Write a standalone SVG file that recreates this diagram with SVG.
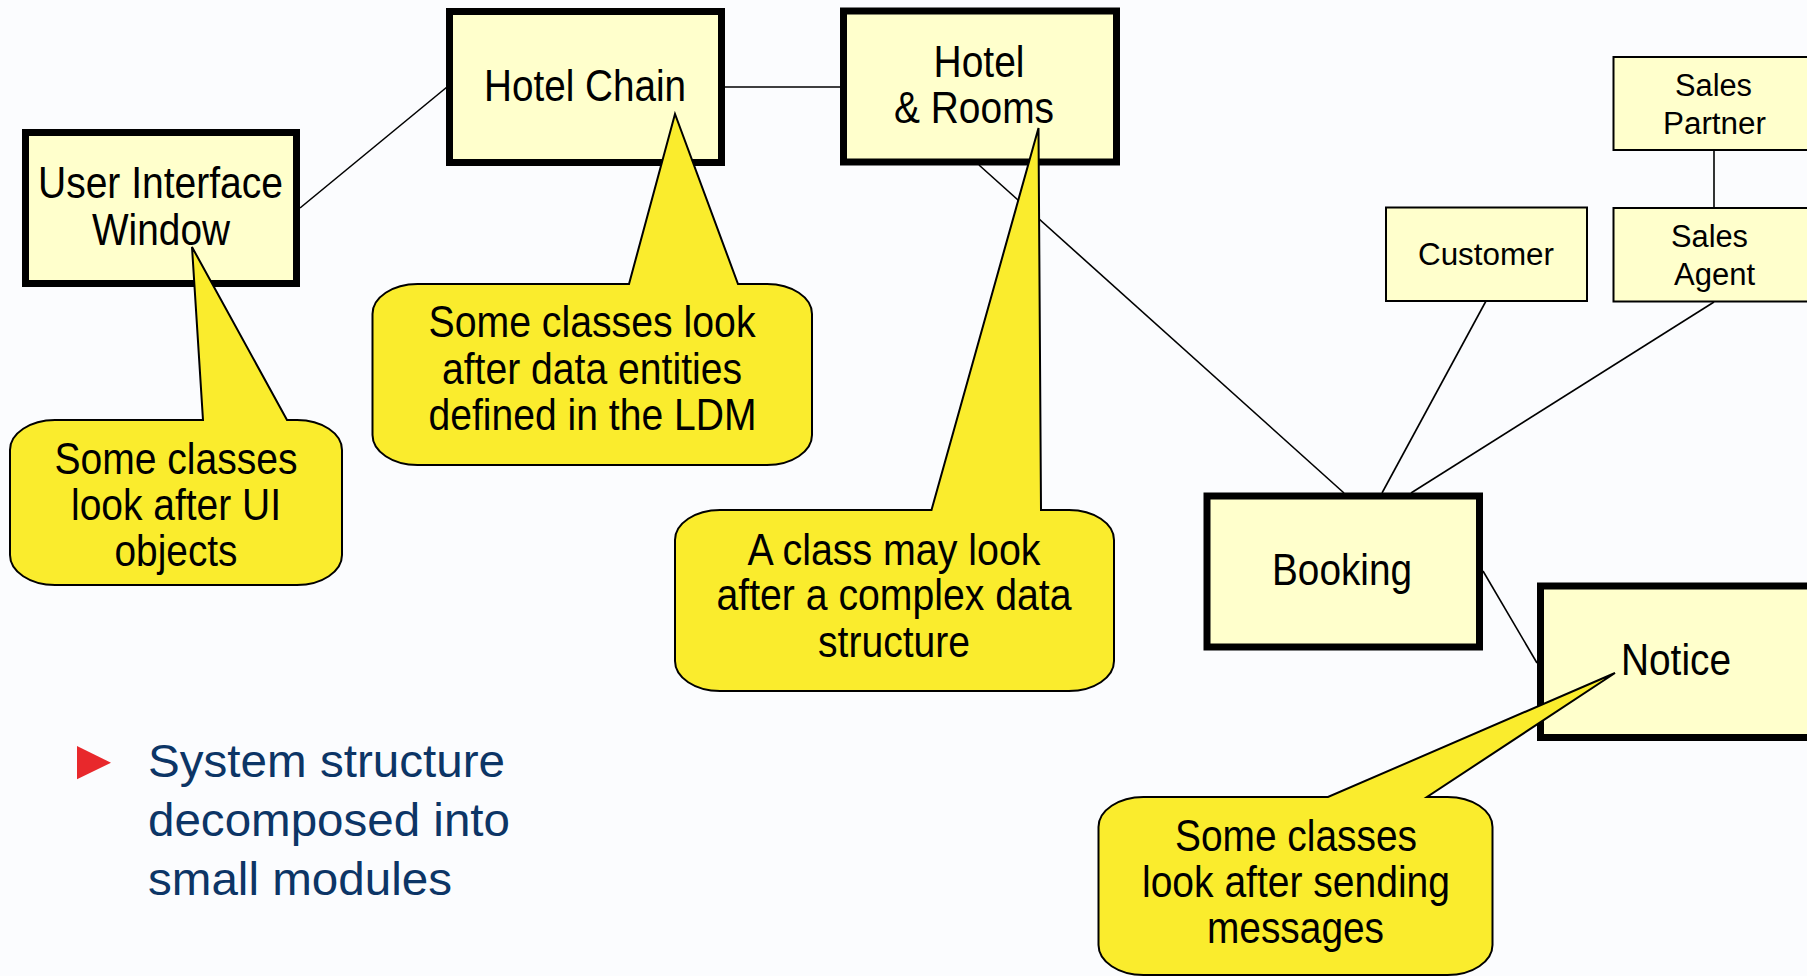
<svg xmlns="http://www.w3.org/2000/svg" width="1807" height="976" viewBox="0 0 1807 976">
<style>
.bg{fill:#fbfcfe}
.node{fill:#ffffcc;stroke:#000;stroke-width:7}
.snode{fill:#ffffcc;stroke:#000;stroke-width:2}
.conn{stroke:#000;stroke-width:1.6;fill:none}
.callout{fill:#faec2d;stroke:#000;stroke-width:2;stroke-linejoin:miter}
.t{font-family:"Liberation Sans",Arial,sans-serif;font-size:44px;fill:#000;text-anchor:middle}
.ts{font-family:"Liberation Sans",Arial,sans-serif;font-size:31px;fill:#000;text-anchor:middle}
.tb{font-family:"Liberation Sans",Arial,sans-serif;font-size:46px;fill:#0c3566}
</style>
<rect class="bg" x="0" y="0" width="1807" height="976"/>
<g id="connectors">
<line class="conn" x1="300" y1="208" x2="447" y2="87"/>
<line class="conn" x1="725" y1="87" x2="841" y2="87"/>
<line class="conn" x1="979" y1="165" x2="1344" y2="493"/>
<line class="conn" x1="1486" y1="301" x2="1382" y2="493"/>
<line class="conn" x1="1714" y1="302" x2="1411" y2="493"/>
<line class="conn" x1="1714" y1="150" x2="1714" y2="208"/>
<line class="conn" x1="1483" y1="571" x2="1537" y2="663"/>
</g>
<g id="node-ui">
<rect class="node" x="25.5" y="132.5" width="271" height="151"/>
<text class="t" x="160.5" y="198" textLength="245" lengthAdjust="spacingAndGlyphs">User Interface</text>
<text class="t" x="161" y="245" textLength="138" lengthAdjust="spacingAndGlyphs">Window</text>
</g>
<g id="node-hotelchain">
<rect class="node" x="449.5" y="11.5" width="272" height="151"/>
<text class="t" x="585" y="101" textLength="202" lengthAdjust="spacingAndGlyphs">Hotel Chain</text>
</g>
<g id="node-hotelrooms">
<rect class="node" x="843.5" y="11" width="273" height="151"/>
<text class="t" x="979" y="77" textLength="91" lengthAdjust="spacingAndGlyphs">Hotel</text>
<text class="t" x="974" y="123" textLength="160" lengthAdjust="spacingAndGlyphs">&amp; Rooms</text>
</g>
<g id="node-customer">
<rect class="snode" x="1386" y="207.5" width="201" height="93.5"/>
<text class="ts" x="1486" y="265" textLength="136" lengthAdjust="spacingAndGlyphs">Customer</text>
</g>
<g id="node-salespartner">
<rect class="snode" x="1613.5" y="57" width="220" height="93"/>
<text class="ts" x="1713.5" y="96" textLength="77" lengthAdjust="spacingAndGlyphs">Sales</text>
<text class="ts" x="1714.5" y="134" textLength="103" lengthAdjust="spacingAndGlyphs">Partner</text>
</g>
<g id="node-salesagent">
<rect class="snode" x="1613.5" y="208" width="220" height="93.5"/>
<text class="ts" x="1709.5" y="246.5" textLength="77" lengthAdjust="spacingAndGlyphs">Sales</text>
<text class="ts" x="1714.5" y="285" textLength="81" lengthAdjust="spacingAndGlyphs">Agent</text>
</g>
<g id="node-booking">
<rect class="node" x="1207" y="496" width="272.5" height="151"/>
<text class="t" x="1342" y="585" textLength="140" lengthAdjust="spacingAndGlyphs">Booking</text>
</g>
<g id="node-notice">
<rect class="node" x="1540.5" y="586" width="290" height="151.5"/>
<text class="t" x="1676" y="675" textLength="110" lengthAdjust="spacingAndGlyphs">Notice</text>
</g>
<g id="callout-ui">
<path class="callout" d="M55,420 H203 L192,247 L287,420 H297 A45 30 0 0 1 342,450 V555 A45 30 0 0 1 297,585 H55 A45 30 0 0 1 10,555 V450 A45 30 0 0 1 55,420 Z"/>
<text class="t" x="176" y="474" textLength="243" lengthAdjust="spacingAndGlyphs">Some classes</text>
<text class="t" x="176" y="520" textLength="210" lengthAdjust="spacingAndGlyphs">look after UI</text>
<text class="t" x="176" y="566" textLength="123" lengthAdjust="spacingAndGlyphs">objects</text>
</g>
<g id="callout-data">
<path class="callout" d="M417.5,284 H629 L675,114 L738,284 H767 A45 30 0 0 1 812,314 V435 A45 30 0 0 1 767,465 H417.5 A45 30 0 0 1 372.5,435 V314 A45 30 0 0 1 417.5,284 Z"/>
<text class="t" x="592" y="337" textLength="327" lengthAdjust="spacingAndGlyphs">Some classes look</text>
<text class="t" x="592" y="383.5" textLength="300" lengthAdjust="spacingAndGlyphs">after data entities</text>
<text class="t" x="592.5" y="430" textLength="328" lengthAdjust="spacingAndGlyphs">defined in the LDM</text>
</g>
<g id="callout-complex">
<path class="callout" d="M720,510 H931.5 L1038.5,128 L1041,510 H1069 A45 30 0 0 1 1114,540 V661 A45 30 0 0 1 1069,691 H720 A45 30 0 0 1 675,661 V540 A45 30 0 0 1 720,510 Z"/>
<text class="t" x="894" y="565" textLength="293" lengthAdjust="spacingAndGlyphs">A class may look</text>
<text class="t" x="894" y="610" textLength="355" lengthAdjust="spacingAndGlyphs">after a complex data</text>
<text class="t" x="894" y="656.5" textLength="152" lengthAdjust="spacingAndGlyphs">structure</text>
</g>
<g id="callout-messages">
<path class="callout" d="M1143.5,797 H1328 L1615,673 L1427,797 H1447.5 A45 30 0 0 1 1492.5,827 V945 A45 30 0 0 1 1447.5,975 H1143.5 A45 30 0 0 1 1098.5,945 V827 A45 30 0 0 1 1143.5,797 Z"/>
<text class="t" x="1296" y="851" textLength="242" lengthAdjust="spacingAndGlyphs">Some classes</text>
<text class="t" x="1296" y="897" textLength="308" lengthAdjust="spacingAndGlyphs">look after sending</text>
<text class="t" x="1295.5" y="943" textLength="177" lengthAdjust="spacingAndGlyphs">messages</text>
</g>
<g id="bullet">
<polygon points="77,746 111,762.7 77,779.3" fill="#e8282c"/>
<text class="tb" x="148" y="777" textLength="357" lengthAdjust="spacingAndGlyphs">System structure</text>
<text class="tb" x="148" y="836" textLength="362" lengthAdjust="spacingAndGlyphs">decomposed into</text>
<text class="tb" x="148" y="895" textLength="304" lengthAdjust="spacingAndGlyphs">small modules</text>
</g>
</svg>
